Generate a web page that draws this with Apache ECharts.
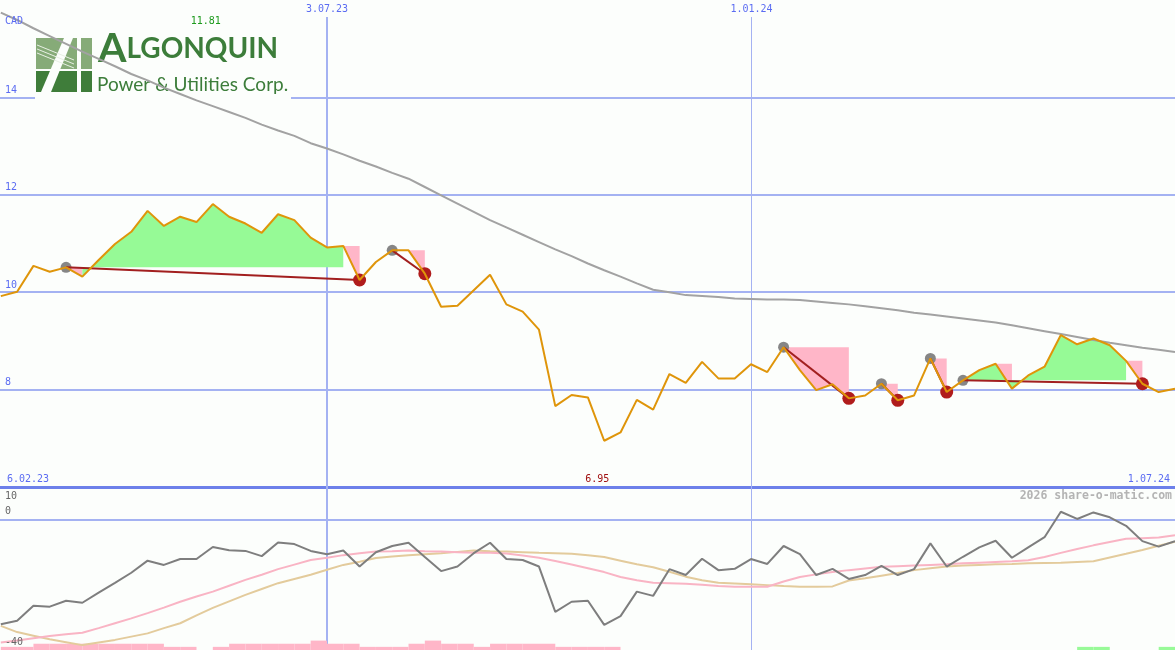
<!DOCTYPE html>
<html><head><meta charset="utf-8">
<script src="https://cdn.jsdelivr.net/npm/echarts@6/dist/echarts.min.js"></script>
<style>html,body{margin:0;padding:0;background:#fcfefc}#c{width:1175px;height:650px}</style>
</head><body><div id="c"></div><script>
// ---- data (x = week index, week 0 = 6.02.23) ----
const firstLabel = '6.02.23';
const lastLabel = '1.07.24';
const currency = 'CAD';
const vLines = [21, 47];
const vLineLabels = ['3.07.23', '1.01.24'];
const priceTicks = [8, 10, 12, 14];
const oscTicks = [10, 0, -40];
const price = [
 9.92,10.01,10.54,10.42,10.51,10.32,10.66,10.99,11.24,11.67,
 11.36,11.55,11.44,11.81,11.55,11.41,11.22,11.60,11.48,11.12,
 10.92,10.95,10.25,10.62,10.86,10.86,10.38,9.70,9.72,10.04,
 10.36,9.75,9.60,9.23,7.66,7.89,7.84,6.95,7.12,7.79,
 7.59,8.32,8.14,8.57,8.23,8.23,8.52,8.36,8.87,8.40,
 7.99,8.11,7.82,7.88,8.12,7.78,7.88,8.64,7.95,8.19,
 8.40,8.53,8.02,8.29,8.47,9.12,8.93,9.05,8.91,8.59,
 8.12,7.95,8.02];
const maLong = [
 15.74,15.59,15.42,15.26,15.10,14.94,14.79,14.64,14.48,14.35,
 14.20,14.07,13.94,13.82,13.70,13.58,13.44,13.32,13.21,13.06,
 12.95,12.83,12.70,12.58,12.45,12.33,12.16,11.99,11.82,11.65,
 11.48,11.33,11.18,11.03,10.88,10.74,10.59,10.45,10.32,10.18,
 10.05,10.00,9.94,9.92,9.90,9.87,9.86,9.85,9.85,9.84,
 9.81,9.78,9.75,9.71,9.67,9.63,9.58,9.54,9.50,9.46,
 9.42,9.38,9.32,9.26,9.20,9.14,9.08,9.02,8.96,8.91,
 8.86,8.82,8.77];
const osc = [
 -32.1,-31.0,-26.4,-26.7,-24.9,-25.5,-22.4,-19.4,-16.3,-12.6,
 -13.9,-12.1,-12.1,-8.4,-9.4,-9.6,-11.2,-7.0,-7.5,-9.6,
 -10.6,-9.5,-14.4,-10.0,-8.1,-7.1,-11.5,-15.8,-14.4,-10.3,
 -7.1,-12.1,-12.4,-14.4,-28.3,-25.2,-24.9,-32.3,-29.6,-22.1,
 -23.4,-15.2,-17.0,-12.0,-15.5,-15.1,-12.1,-13.6,-8.1,-10.6,
 -17.0,-15.1,-18.2,-17.0,-14.2,-17.0,-15.2,-7.3,-14.4,-11.4,
 -8.5,-6.5,-11.7,-8.5,-5.4,2.4,0.2,2.2,0.7,-1.9,
 -6.6,-8.3,-6.6];
const oscFast = [
 -37.7,-37.1,-36.4,-35.7,-35.2,-34.7,-33.3,-31.8,-30.3,-28.7,
 -27.0,-25.2,-23.6,-22.1,-20.3,-18.5,-16.9,-15.2,-13.8,-12.4,
 -11.7,-10.9,-10.3,-9.8,-9.7,-9.5,-9.7,-9.8,-10.0,-10.2,
 -10.2,-10.4,-11.0,-11.7,-12.7,-13.8,-14.9,-16.1,-17.6,-18.6,
 -19.4,-19.5,-19.7,-20.0,-20.4,-20.6,-20.6,-20.6,-19.0,-17.6,
 -16.8,-16.1,-15.5,-15.0,-14.5,-14.3,-14.1,-13.9,-13.7,-13.4,
 -13.2,-13.0,-12.8,-12.5,-11.5,-10.2,-9.0,-7.9,-6.9,-5.9,
 -5.7,-5.5,-4.8];
const oscSlow = [
 -32.6,-34.5,-35.6,-36.7,-37.6,-38.5,-37.7,-36.9,-35.9,-34.9,
 -33.3,-31.8,-29.4,-27.1,-25.1,-23.1,-21.3,-19.5,-18.2,-16.9,
 -15.4,-13.9,-12.9,-11.8,-11.3,-10.9,-10.6,-10.3,-9.9,-9.5,
 -9.7,-9.8,-10.0,-10.2,-10.3,-10.5,-10.9,-11.5,-12.6,-13.7,
 -14.6,-16.0,-17.5,-18.6,-19.4,-19.6,-19.8,-20.1,-20.4,-20.6,
 -20.6,-20.5,-18.7,-18.0,-17.2,-16.4,-15.5,-14.9,-14.4,-14.1,
 -13.9,-13.7,-13.6,-13.4,-13.3,-13.2,-13.0,-12.8,-11.6,-10.5,
 -9.3,-8.0,-6.8];
// signal histogram per week segment (negative = pink, positive = green)
const hist = [
 -1,-1,-2,-2,-2,-2,-2,-2,-2,-2,-1,-1,0,-1,-2,-2,-2,-2,-2,-3,
 -2,-2,-1,-1,-1,-2,-3,-2,-2,-1,-2,-2,-2,-2,-1,-1,-1,-1,
 0,0,0,0,0,0,0,0,0,0,0,0,0,0,0,0,0,0,0,0,0,0,0,0,0,0,0,0,
 1,1,0,0,0,1];
// pattern overlays (week indices)
const signals = [[5,23],[25,27],[49,53],[55,56],[58,59],[60,71]];
const pinkZones = [[5,6],[22,23],[25,27],[49,53],[55,56],[58,59],[62,63],[70,71]];
const greenZones = [[6,22,5],[60,70,60]];

const mono = "'DejaVu Sans Mono', monospace";
const blue = '#5b6cf2';
const gridBlue = '#a4b2f2';
const P = i => price[i-1];

const chart = echarts.init(document.getElementById('c'), null, {renderer:'canvas'});
const xCommon = {type:'value', min:0.95, max:73, axisTick:{show:false}, axisLabel:{show:false}, splitLine:{show:false}};

// vertical date grid lines, pixel-snapped
const vgrid = (withLabel, yTop, yBot) => (params, api) => {
  const k = params.dataIndex;
  const w = k === 0 ? 2 : 1;
  const c = api.coord([api.value(0), yTop]);
  const b = api.coord([api.value(0), yBot]);
  const x = w === 1 ? Math.round(c[0]) + 0.5 : Math.round(c[0]);
  const kids = [{type:'line', shape:{x1:x, y1:c[1], x2:x, y2:b[1]}, style:{stroke:gridBlue, lineWidth:w}}];
  if (withLabel) kids.push({type:'text', style:{text:vLineLabels[k], x:x, y:c[1]-3, align:'center',
    verticalAlign:'bottom', fill:blue, fontFamily:mono, fontSize:10}});
  return {type:'group', children:kids};
};

const option = {
  animation:false,
  backgroundColor:'#fcfefc',
  grid:[{left:0,right:0,top:0,height:487},{left:0,right:0,top:487,height:163}],
  xAxis:[
    Object.assign({gridIndex:0, axisLine:{show:true,onZero:false,lineStyle:{color:'#6d80ea',width:3}}}, xCommon),
    Object.assign({gridIndex:1, axisLine:{show:false}}, xCommon)
  ],
  yAxis:[
    {type:'value',gridIndex:0,min:6,max:16,interval:2,axisLine:{show:false},axisTick:{show:false},
     axisLabel:{inside:true,margin:5,verticalAlign:'bottom',padding:[0,0,2,0],color:blue,fontFamily:mono,fontSize:10,
       formatter:v=>priceTicks.includes(v)?String(v):''},
     splitLine:{show:true,showMinLine:false,showMaxLine:false,lineStyle:{color:gridBlue,width:2}}},
    {type:'value',gridIndex:1,min:-40,max:10,interval:40,axisLine:{show:false},axisTick:{show:false},
     axisLabel:{show:false},
     splitLine:{show:true,showMinLine:false,showMaxLine:false,lineStyle:{color:gridBlue,width:2}}},
    {type:'value',gridIndex:1,min:0,max:52,show:false}
  ],
  series:[
    {type:'custom',name:'vgridTop',xAxisIndex:0,yAxisIndex:0,z:1,silent:true,clip:false,
     data:vLines.map(w=>[w]),renderItem:vgrid(true,15.65,6)},
    {type:'custom',name:'vgridBottom',xAxisIndex:1,yAxisIndex:1,z:1,silent:true,
     data:vLines.map(w=>[w]),renderItem:vgrid(false,10,-40)},
    {type:'custom',name:'drawdown',xAxisIndex:0,yAxisIndex:0,z:2,silent:true,data:pinkZones,
     renderItem:(params,api)=>{
       const s=api.value(0), e=api.value(1), lvl=P(s);
       const pts=[api.coord([s,lvl]),api.coord([e,lvl])];
       for(let i=e;i>=s;i--) pts.push(api.coord([i,P(i)]));
       return {type:'polygon',shape:{points:pts},style:{fill:'#ffb6c8'}};
     }},
    {type:'custom',name:'rise',xAxisIndex:0,yAxisIndex:0,z:2,silent:true,data:greenZones,
     renderItem:(params,api)=>{
       const s=api.value(0), e=api.value(1), base=P(api.value(2));
       const pts=[api.coord([s,base]),api.coord([e,base])];
       for(let i=e;i>=s;i--) pts.push(api.coord([i,P(i)]));
       return {type:'polygon',shape:{points:pts},style:{fill:'#96fa96'}};
     }},
    {type:'line',name:'ma',xAxisIndex:0,yAxisIndex:0,z:3,showSymbol:false,silent:true,
     data:maLong.map((v,k)=>[k+1,v]),lineStyle:{color:'#a2a2a2',width:2}},
    {type:'custom',name:'signals',xAxisIndex:0,yAxisIndex:0,z:3,silent:true,data:signals,
     renderItem:(params,api)=>{
       const s=api.value(0), e=api.value(1);
       const a=api.coord([s,P(s)]), b=api.coord([e,P(e)]);
       return {type:'group',children:[
         {type:'circle',shape:{cx:a[0],cy:a[1],r:5.5},style:{fill:'#868686'}},
         {type:'line',shape:{x1:a[0],y1:a[1],x2:b[0],y2:b[1]},style:{stroke:'#a21f1f',lineWidth:2}},
         {type:'circle',shape:{cx:b[0],cy:b[1],r:6.5},style:{fill:'#b01c1c'}}
       ]};
     }},
    {type:'line',name:'price',xAxisIndex:0,yAxisIndex:0,z:4,showSymbol:false,silent:true,
     data:price.map((v,k)=>[k+1,v]),lineStyle:{color:'#df950a',width:2}},
    {type:'custom',name:'hist',xAxisIndex:1,yAxisIndex:2,z:2,silent:true,
     data:hist.map((v,k)=>[k+1,v]).filter(d=>d[1]!==0),
     renderItem:(params,api)=>{
       const s=api.value(0), v=api.value(1);
       const p0=api.coord([s,0]), p1=api.coord([s+1,Math.abs(v)]);
       return {type:'rect',shape:{x:p0[0],y:p1[1],width:p1[0]-p0[0],height:p0[1]-p1[1]},
         style:{fill:v<0?'#ffb6c8':'#98fa98'}};
     }},
    {type:'line',name:'oscSlow',xAxisIndex:1,yAxisIndex:1,z:3,showSymbol:false,silent:true,
     data:oscSlow.map((v,k)=>[k+1,v]),lineStyle:{color:'#e3cb9c',width:2}},
    {type:'line',name:'oscFast',xAxisIndex:1,yAxisIndex:1,z:3,showSymbol:false,silent:true,
     data:oscFast.map((v,k)=>[k+1,v]),lineStyle:{color:'#f9b4c4',width:2}},
    {type:'line',name:'osc',xAxisIndex:1,yAxisIndex:1,z:4,showSymbol:false,silent:true,
     data:osc.map((v,k)=>[k+1,v]),lineStyle:{color:'#7e7e7e',width:2}}
  ]
};
chart.setOption(option);

const px = (i,v,g) => chart.convertToPixel({gridIndex:g||0},[i,v]);
const iMax = price.indexOf(Math.max(...price)) + 1;
const iMin = price.indexOf(Math.min(...price)) + 1;
const pMax = px(iMax, P(iMax));
const pMin = px(iMin, P(iMin));
const pBot = px(1, 6);
const bg = '#fcfefc';
const lg = '#3c7d3a';
const txt = (text, x, y, align, fill, extra) => Object.assign({type:'text', z:5, silent:true,
  style:Object.assign({text, x, y, align, textAlign:align, verticalAlign:'middle', textVerticalAlign:'middle',
    fill, fontFamily:mono, fontSize:10}, extra||{})});
// oscillator panel labels: top one below its line, others above
const oscLabels = oscTicks.map((v,k) => {
  const y = px(1, v, 1)[1];
  return txt(String(v), 5, k === 0 ? y + 9 : y - 8, 'left', '#666');
});
const pTop2 = px(1, oscTicks[0], 1);

chart.setOption({graphic:[
  // logo
  {type:'group', z:1, silent:true, children:[
    {type:'rect', z:1, shape:{x:35,y:34,width:256,height:66}, style:{fill:bg}},
    {type:'rect', z:1, shape:{x:36,y:38,width:56,height:31}, style:{fill:'#86ab78'}},
    {type:'rect', z:1, shape:{x:36,y:71,width:56,height:21}, style:{fill:'#3f7d3a'}},
    {type:'polygon', z:1, shape:{points:[[41,92],[51,92],[73,38],[64,38]]}, style:{fill:bg}},
    {type:'rect', z:1, shape:{x:77,y:38,width:4,height:54}, style:{fill:bg}},
    {type:'line', z:1, shape:{x1:37,y1:45,x2:74,y2:60}, style:{stroke:'#e8f0e4',lineWidth:1}},
    {type:'line', z:1, shape:{x1:37,y1:49,x2:74,y2:64}, style:{stroke:'#e8f0e4',lineWidth:1}},
    {type:'line', z:1, shape:{x1:37,y1:53,x2:74,y2:68}, style:{stroke:'#e8f0e4',lineWidth:1}},
    {type:'text', z:1, style:{x:98,y:69,verticalAlign:'bottom',textVerticalAlign:'bottom',
      text:'{a|A}{b|LGONQUIN}',
      rich:{a:{fontFamily:'Lato',fontWeight:'bold',fontSize:41,fill:lg,color:lg},
            b:{fontFamily:'Lato',fontWeight:'bold',fontSize:28,fill:lg,color:lg}}}},
    {type:'text', z:1, style:{x:97,y:85,verticalAlign:'middle',textVerticalAlign:'middle',
      text:'Power & Utilities Corp.', fontFamily:'Lato', fontSize:19, fill:lg}}
  ]},
  txt(currency, 5, 21, 'left', blue),
  txt(P(iMax).toFixed(2), pMax[0]-7, 21, 'center', '#1c9a1c'),
  txt(firstLabel, 7, pBot[1]-8, 'left', blue),
  txt(P(iMin).toFixed(2), pMin[0]-7, pBot[1]-8, 'center', '#a01010'),
  txt(lastLabel, 1170, pBot[1]-8, 'right', blue),
  ...oscLabels,
  txt('2026 share-o-matic.com', 1172, pTop2[1]+9, 'right', '#b4b4b4', {fontSize:11.5, fontWeight:'bold'})
]});
</script></body></html>
